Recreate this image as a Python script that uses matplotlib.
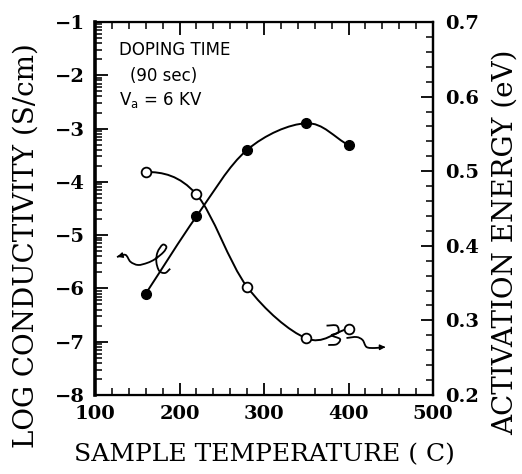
import numpy as np
import matplotlib
matplotlib.use("Agg")
import matplotlib.pyplot as plt
from matplotlib.path import Path
from matplotlib.patches import PathPatch
from matplotlib.ticker import FixedLocator, MultipleLocator

# data
temp = [160, 220, 280, 350, 400]
log_cond = [-6.10, -4.65, -3.40, -2.90, -3.31]
act_energy = [0.499, 0.469, 0.345, 0.276, 0.289]

# hand drawn pointers (data coords of the axis they belong to)
left_hook_x = [126, 136, 142, 151, 162, 171, 181, 184.5, 180, 174, 172.6, 176, 183, 189]
left_hook_y = [-5.41, -5.37, -5.50, -5.56, -5.52, -5.45, -5.32, -5.22, -5.18, -5.32, -5.50, -5.67, -5.71, -5.63]
right_hook_x = [374, 386, 388, 380, 390, 386, 376]
right_hook_y = [0.293, 0.293, 0.284, 0.280, 0.275, 0.268, 0.267]
right_tail_x = [397.6, 409.5, 416.7, 421.4, 431, 440]
right_tail_y = [0.2764, 0.2777, 0.2737, 0.2643, 0.2630, 0.2640]

plt.rcParams["font.family"] = "DejaVu Serif"


def smooth(xs, ys, start_tan=None):
    # catmull-rom through the points, drawn as bezier segments
    p = np.column_stack([xs, ys]).astype(float)
    n = len(p)
    tan = np.zeros_like(p)
    tan[1:-1] = (p[2:] - p[:-2]) / 2
    tan[0] = p[1] - p[0] if start_tan is None else start_tan
    tan[-1] = p[-1] - p[-2]
    verts = [p[0]]
    codes = [Path.MOVETO]
    for i in range(n - 1):
        verts += [p[i] + tan[i] / 3, p[i + 1] - tan[i + 1] / 3, p[i + 1]]
        codes += [Path.CURVE4] * 3
    return Path(verts, codes)


fig = plt.figure(figsize=(5.22, 4.74), dpi=100)
ax = fig.add_axes([95 / 522, 79 / 474, 338 / 522, 373 / 474])
ax2 = ax.twinx()

ax.set_xlim(100, 500)
ax.set_ylim(-8, -1)
ax2.set_ylim(0.2, 0.7)

ax.add_patch(PathPatch(smooth(temp, log_cond), fill=False, lw=1.4, color="black"))
ax.plot(temp, log_cond, "o", color="black", markersize=7)

ax2.add_patch(PathPatch(smooth(temp, act_energy, start_tan=(60, 0)), fill=False, lw=1.4, color="black"))
ax2.plot(temp, act_energy, "o", mfc="white", mec="black", mew=1.3, markersize=7)

# pointer squiggles
ax.add_patch(PathPatch(smooth(left_hook_x, left_hook_y), fill=False, lw=1.3, color="black"))
ax.annotate("", xy=(123, -5.42), xytext=(134, -5.37),
            arrowprops=dict(arrowstyle="-|>", lw=1.0, color="black", mutation_scale=8))
ax2.add_patch(PathPatch(smooth(right_hook_x, right_hook_y), fill=False, lw=1.3, color="black"))
ax2.add_patch(PathPatch(smooth(right_tail_x, right_tail_y), fill=False, lw=1.3, color="black"))
ax2.annotate("", xy=(447, 0.2643), xytext=(438, 0.2640),
             arrowprops=dict(arrowstyle="-|>", lw=1.0, color="black", mutation_scale=8))

# ticks
ax.xaxis.set_major_locator(MultipleLocator(100))
ax.xaxis.set_minor_locator(MultipleLocator(20))
ax.yaxis.set_major_locator(MultipleLocator(1))
log_minor = [m + np.log10(k) for m in range(-8, -1) for k in range(2, 10)]
ax.yaxis.set_minor_locator(FixedLocator(log_minor))
ax2.yaxis.set_major_locator(MultipleLocator(0.1))
ax2.yaxis.set_minor_locator(MultipleLocator(0.02))

ax.tick_params(axis="x", which="both", direction="in", top=True, pad=7, labelsize=14)
ax.tick_params(axis="y", which="both", direction="in", right=False, pad=7, labelsize=14)
ax2.tick_params(axis="y", which="both", direction="in", pad=9, labelsize=14)
for a in (ax, ax2):
    a.tick_params(which="major", length=9, width=1.3)
    a.tick_params(which="minor", length=5, width=1.1)
    for lab in a.get_xticklabels() + a.get_yticklabels():
        lab.set_fontweight("bold")
ax2.yaxis.set_major_formatter(plt.FormatStrFormatter("%.1f"))

for s in ax.spines.values():
    s.set_linewidth(1.6)
ax.spines["left"].set_linewidth(2.6)
ax2.spines["left"].set_visible(False)
ax2.spines["right"].set_linewidth(1.6)

ax.set_xlabel("SAMPLE TEMPERATURE ( C)", fontsize=18, labelpad=15)
ax.set_ylabel("LOG CONDUCTIVITY (S/cm)", fontsize=20)
ax2.set_ylabel("ACTIVATION ENERGY (eV)", fontsize=20)
ax.yaxis.set_label_coords(-0.205, 0.40)
ax.yaxis.label.set_va("center")
ax2.yaxis.set_label_coords(1.215, 0.41)
ax2.yaxis.label.set_va("center")

ax.text(0.07, 0.925, "DOPING TIME", transform=ax.transAxes, fontsize=12, family="DejaVu Sans", va="center")
ax.text(0.105, 0.855, "(90 sec)", transform=ax.transAxes, fontsize=12, family="DejaVu Sans", va="center")
ax.text(0.07, 0.79, r"V$_\mathrm{a}$ = 6 KV", transform=ax.transAxes, fontsize=12, family="DejaVu Sans", va="center")

fig.savefig("out.png", dpi=100)
